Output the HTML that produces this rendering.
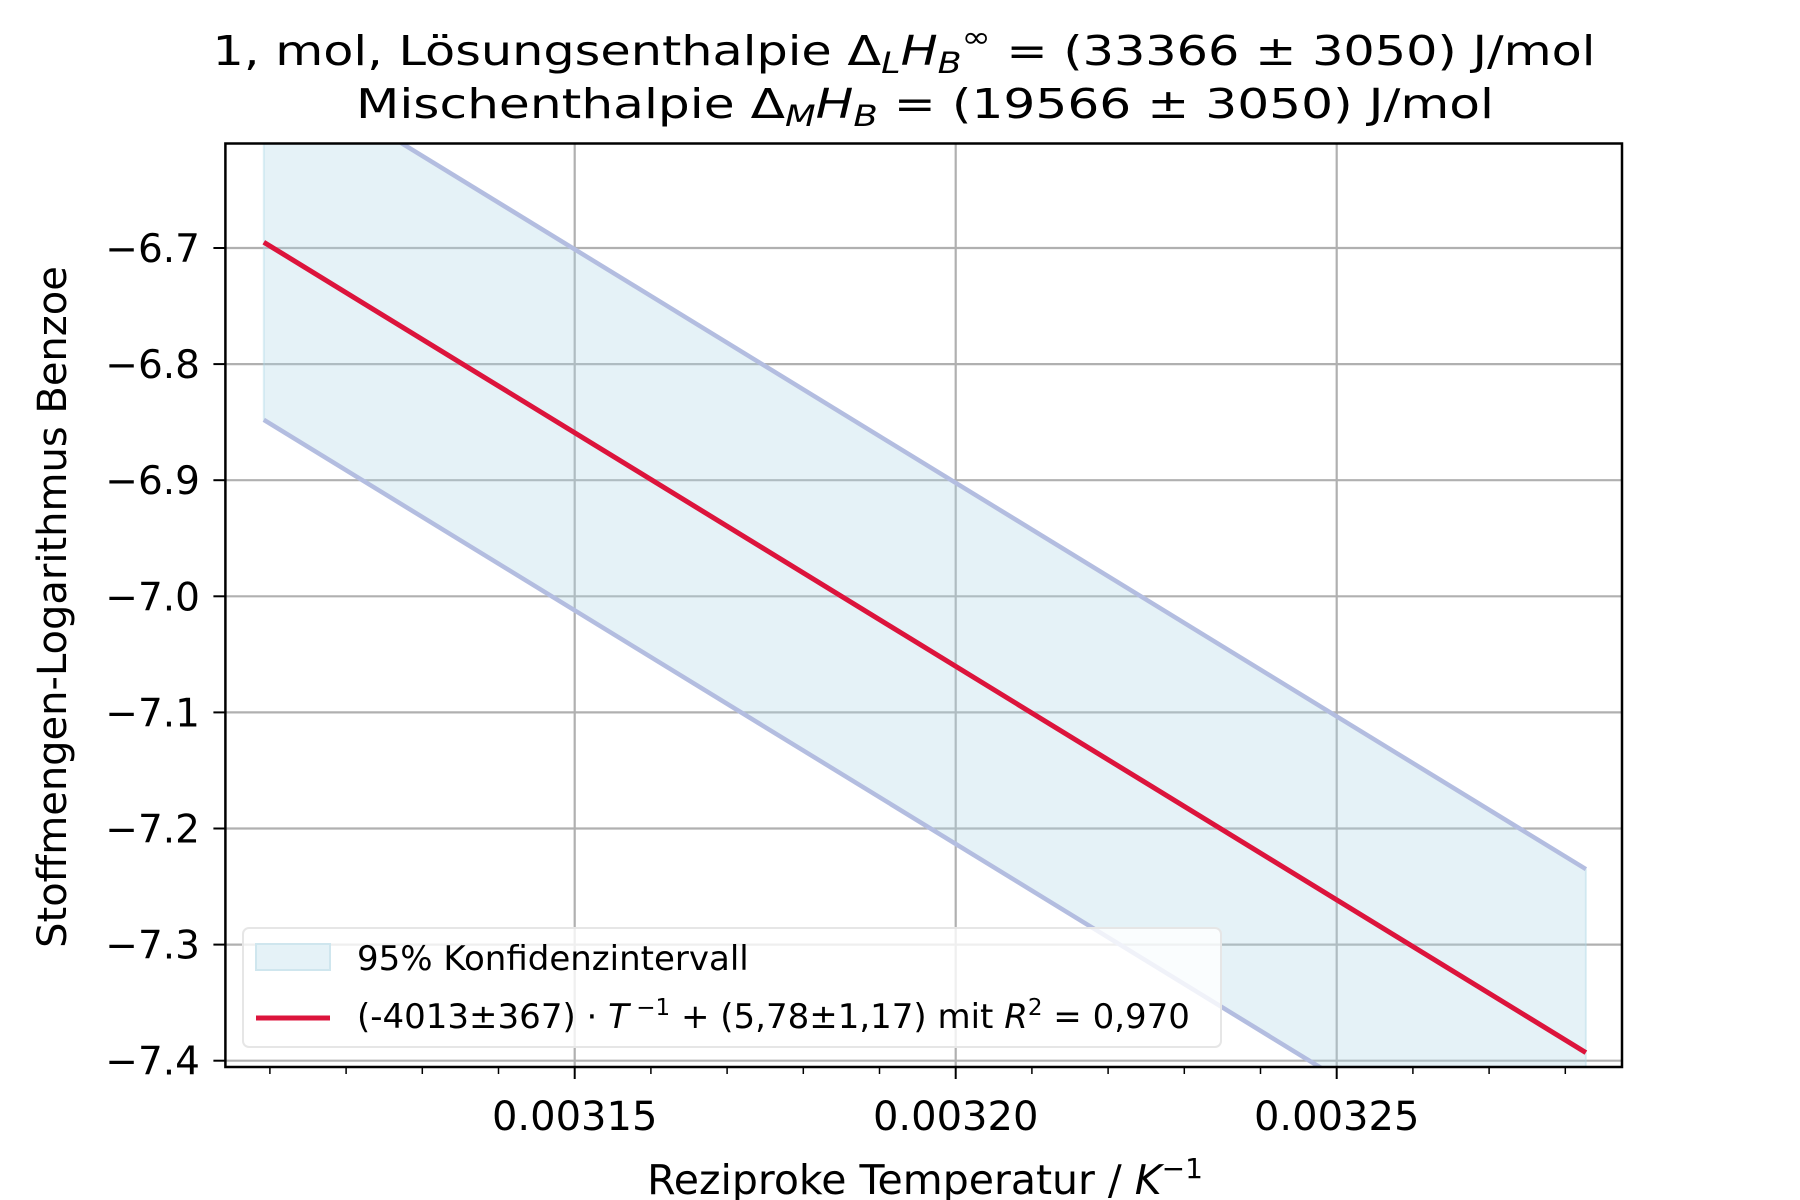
<!DOCTYPE html>
<html><head><meta charset="utf-8"><style>
html,body{margin:0;padding:0;background:#fff;}
svg{display:block;font-family:"DejaVu Sans","Liberation Sans",sans-serif;}
</style></head><body>
<svg id="chart" width="1800" height="1200" viewBox="0 0 1800 1200" xmlns="http://www.w3.org/2000/svg">
<defs><clipPath id="clip"><rect x="225.4" y="143.5" width="1396.6" height="923.5"/></clipPath></defs>
<rect width="1800" height="1200" fill="#fff"/>
<g id="title" font-size="41" text-anchor="middle" fill="#000">
<text x="904" y="65" textLength="1383" lengthAdjust="spacingAndGlyphs">1, mol, Lösungsenthalpie Δ<tspan font-size="29" dy="8" font-style="italic">L</tspan><tspan dy="-8" font-style="italic">H</tspan><tspan font-size="29" dy="8" font-style="italic">B</tspan><tspan font-size="29" dy="-26">∞</tspan><tspan dy="18"> = (33366 ± 3050) J/mol</tspan></text>
<text x="925" y="118" textLength="1138" lengthAdjust="spacingAndGlyphs">Mischenthalpie Δ<tspan font-size="29" dy="8" font-style="italic">M</tspan><tspan dy="-8" font-style="italic">H</tspan><tspan font-size="29" dy="8" font-style="italic">B</tspan><tspan dy="-8"> =  (19566 ± 3050) J/mol</tspan></text>
</g>
<g id="grid"></g>
<g id="plot" clip-path="url(#clip)"></g>
<g id="axes"></g>
<g id="legend">
<rect x="243" y="928" width="978" height="119" rx="6" fill="#fff" fill-opacity="0.8" stroke="#e6e6e6" stroke-width="2"/>
<rect x="256" y="944" width="74" height="26" fill="#e5f2f7" stroke="#cfe6ee" stroke-width="2"/>
<text x="357" y="970" font-size="34">95% Konfidenzintervall</text>
<line x1="256" y1="1018" x2="330" y2="1018" stroke="#dc143c" stroke-width="5"/>
<text x="357" y="1028" font-size="34">(-4013±367)<tspan> · </tspan><tspan font-style="italic">T</tspan><tspan font-size="23" dy="-13"> −1</tspan><tspan dy="13"> + (5,78±1,17) mit </tspan><tspan font-style="italic">R</tspan><tspan font-size="23" dy="-13">2</tspan><tspan dy="13"> = 0,970</tspan></text>
</g>
<text x="925" y="1194" font-size="41" text-anchor="middle">Reziproke Temperatur / <tspan font-style="italic">K</tspan><tspan font-size="28" dy="-16">−1</tspan></text>
<text transform="translate(66,607) rotate(-90)" font-size="40" text-anchor="middle">Stoffmengen-Logarithmus Benzoe</text>
</svg>
<script>
const xMajorTicks = [0.00315, 0.00320, 0.00325];
const xMajorLabels = ["0.00315", "0.00320", "0.00325"];
const yTicks = [-6.7, -6.8, -6.9, -7.0, -7.1, -7.2, -7.3, -7.4];
const yTickLabels = ["−6.7", "−6.8", "−6.9", "−7.0", "−7.1", "−7.2", "−7.3", "−7.4"];
const fitX = [0.0031092, 0.0032827];
const fitY = [-6.695, -7.393];
const upperY = [-6.537, -7.235];
const lowerY = [-6.848, -7.546];

const NS = "http://www.w3.org/2000/svg";
const L = 225.4, R = 1622, T = 143.5, B = 1067;
const xPx = v => 574.7 + (v - 0.00315) / 0.00005 * 381;
const yPx = v => 248 + (-6.7 - v) / 0.1 * 116.1;
function mk(tag, attrs, parent) {
  const e = document.createElementNS(NS, tag);
  for (const k in attrs) e.setAttribute(k, attrs[k]);
  parent.appendChild(e);
  return e;
}
const grid = document.getElementById('grid');
const plot = document.getElementById('plot');
const axes = document.getElementById('axes');

xMajorTicks.forEach((v, i) => {
  const g = mk('line', {x1: xPx(v), x2: xPx(v), y1: T, y2: B, stroke: '#b0b0b0', 'stroke-width': 2.2}, grid);
  
  
  const t = mk('line', {x1: xPx(v), x2: xPx(v), y1: B, y2: B + 12, stroke: '#000', 'stroke-width': 2}, axes);
  
  
  const tx = mk('text', {x: xPx(v), y: 1130, 'font-size': 40, 'text-anchor': 'middle'}, axes);
  tx.textContent = xMajorLabels[i];
  
  
});
for (let k = 311; k <= 328; k++) {
  const v = k / 100000;
  if (k % 5 === 0) continue;
  const t = mk('line', {x1: xPx(v), x2: xPx(v), y1: B, y2: B + 7, stroke: '#000', 'stroke-width': 1.5}, axes);
  
  
}
yTicks.forEach((v, i) => {
  const g = mk('line', {x1: L, x2: R, y1: yPx(v), y2: yPx(v), stroke: '#b0b0b0', 'stroke-width': 2.2}, grid);
  
  
  const t = mk('line', {x1: L - 12, x2: L, y1: yPx(v), y2: yPx(v), stroke: '#000', 'stroke-width': 2}, axes);
  
  
  const tx = mk('text', {x: 200, y: yPx(v) + 14, 'font-size': 39, 'text-anchor': 'end'}, axes);
  tx.textContent = yTickLabels[i];
  
  
});

const band = mk('polygon', {points: `${xPx(fitX[0])},${yPx(upperY[0])} ${xPx(fitX[1])},${yPx(upperY[1])} ${xPx(fitX[1])},${yPx(lowerY[1])} ${xPx(fitX[0])},${yPx(lowerY[0])}`, fill: '#add8e6', 'fill-opacity': 0.32, stroke: '#add8e6', 'stroke-opacity': 0.4, 'stroke-width': 2}, plot);


const up = mk('line', {x1: xPx(fitX[0]), y1: yPx(upperY[0]), x2: xPx(fitX[1]), y2: yPx(upperY[1]), stroke: '#b3bde0', 'stroke-width': 4.5}, plot);


const lo = mk('line', {x1: xPx(fitX[0]), y1: yPx(lowerY[0]), x2: xPx(fitX[1]), y2: yPx(lowerY[1]), stroke: '#b3bde0', 'stroke-width': 4.5}, plot);


const fit = mk('line', {x1: xPx(fitX[0]), y1: yPx(fitY[0]), x2: xPx(fitX[1]), y2: yPx(fitY[1]), stroke: '#dc143c', 'stroke-width': 5}, plot);



const frame = mk('rect', {x: L, y: T, width: R - L, height: B - T, fill: 'none', stroke: '#000', 'stroke-width': 2.5}, axes);


</script>
</body></html>
